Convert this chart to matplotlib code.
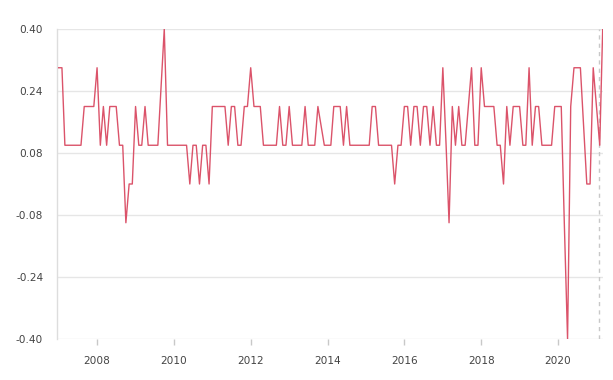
import matplotlib
matplotlib.use("Agg")
import matplotlib.pyplot as plt
import matplotlib.dates as mdates
import pandas as pd

start_month = "2007-01-01"
values = [
    0.3, 0.3, 0.1, 0.1, 0.1, 0.1, 0.1, 0.1, 0.2, 0.2, 0.2, 0.2,          # 2007
    0.3, 0.1, 0.2, 0.1, 0.2, 0.2, 0.2, 0.1, 0.1, -0.1, 0.0, 0.0,         # 2008
    0.2, 0.1, 0.1, 0.2, 0.1, 0.1, 0.1, 0.1, 0.25, 0.4, 0.1, 0.1,         # 2009
    0.1, 0.1, 0.1, 0.1, 0.1, 0.0, 0.1, 0.1, 0.0, 0.1, 0.1, 0.0,          # 2010
    0.2, 0.2, 0.2, 0.2, 0.2, 0.1, 0.2, 0.2, 0.1, 0.1, 0.2, 0.2,          # 2011
    0.3, 0.2, 0.2, 0.2, 0.1, 0.1, 0.1, 0.1, 0.1, 0.2, 0.1, 0.1,          # 2012
    0.2, 0.1, 0.1, 0.1, 0.1, 0.2, 0.1, 0.1, 0.1, 0.2, 0.15, 0.1,         # 2013
    0.1, 0.1, 0.2, 0.2, 0.2, 0.1, 0.2, 0.1, 0.1, 0.1, 0.1, 0.1,          # 2014
    0.1, 0.1, 0.2, 0.2, 0.1, 0.1, 0.1, 0.1, 0.1, 0.0, 0.1, 0.1,          # 2015
    0.2, 0.2, 0.1, 0.2, 0.2, 0.1, 0.2, 0.2, 0.1, 0.2, 0.1, 0.1,          # 2016
    0.3, 0.1, -0.1, 0.2, 0.1, 0.2, 0.1, 0.1, 0.2, 0.3, 0.1, 0.1,         # 2017
    0.3, 0.2, 0.2, 0.2, 0.2, 0.1, 0.1, 0.0, 0.2, 0.1, 0.2, 0.2,          # 2018
    0.2, 0.1, 0.1, 0.3, 0.1, 0.2, 0.2, 0.1, 0.1, 0.1, 0.1, 0.2,          # 2019
    0.2, 0.2, -0.1, -0.4, 0.2, 0.3, 0.3, 0.3, 0.15, 0.0, 0.0, 0.3,       # 2020
    0.2, 0.1, 0.4,                                                      # 2021
]
y_ticks = [-0.40, -0.24, -0.08, 0.08, 0.24, 0.40]
marker_date = "2021-01-28"

dates = pd.date_range(start_month, periods=len(values), freq="MS")

fig = plt.figure(figsize=(6.13, 3.80), dpi=100)
ax = fig.add_axes([57 / 613, 1 - 339 / 380, (603 - 57) / 613, (339 - 29) / 380])

ax.plot(dates, values, color="#d94a62", lw=1.0, alpha=0.95, zorder=3)
ax.axvline(pd.Timestamp(marker_date), color="#c8c8c8", lw=1.0, ls=(0, (3, 3)), zorder=2)

ax.set_ylim(-0.40, 0.40)
ax.set_yticks(y_ticks)
ax.set_yticklabels([f"{v:.2f}" for v in y_ticks])
ax.set_xlim(pd.Timestamp("2006-12-16"), pd.Timestamp("2021-03-04"))
ax.xaxis.set_major_locator(mdates.YearLocator(2))
ax.xaxis.set_major_formatter(mdates.DateFormatter("%Y"))

ax.grid(axis="y", color="#e6e6e6", lw=1.0, zorder=0)
for s in ["top", "right", "bottom"]:
    ax.spines[s].set_visible(False)
ax.spines["left"].set_color("#dddddd")
ax.spines["left"].set_linewidth(1.0)

ax.tick_params(axis="y", length=0, pad=10, labelsize=7.6, labelcolor="#444444")
ax.tick_params(axis="x", length=4, width=1, color="#c8c8c8", pad=8,
               labelsize=7.6, labelcolor="#444444")

fig.savefig("out.png", dpi=100)
